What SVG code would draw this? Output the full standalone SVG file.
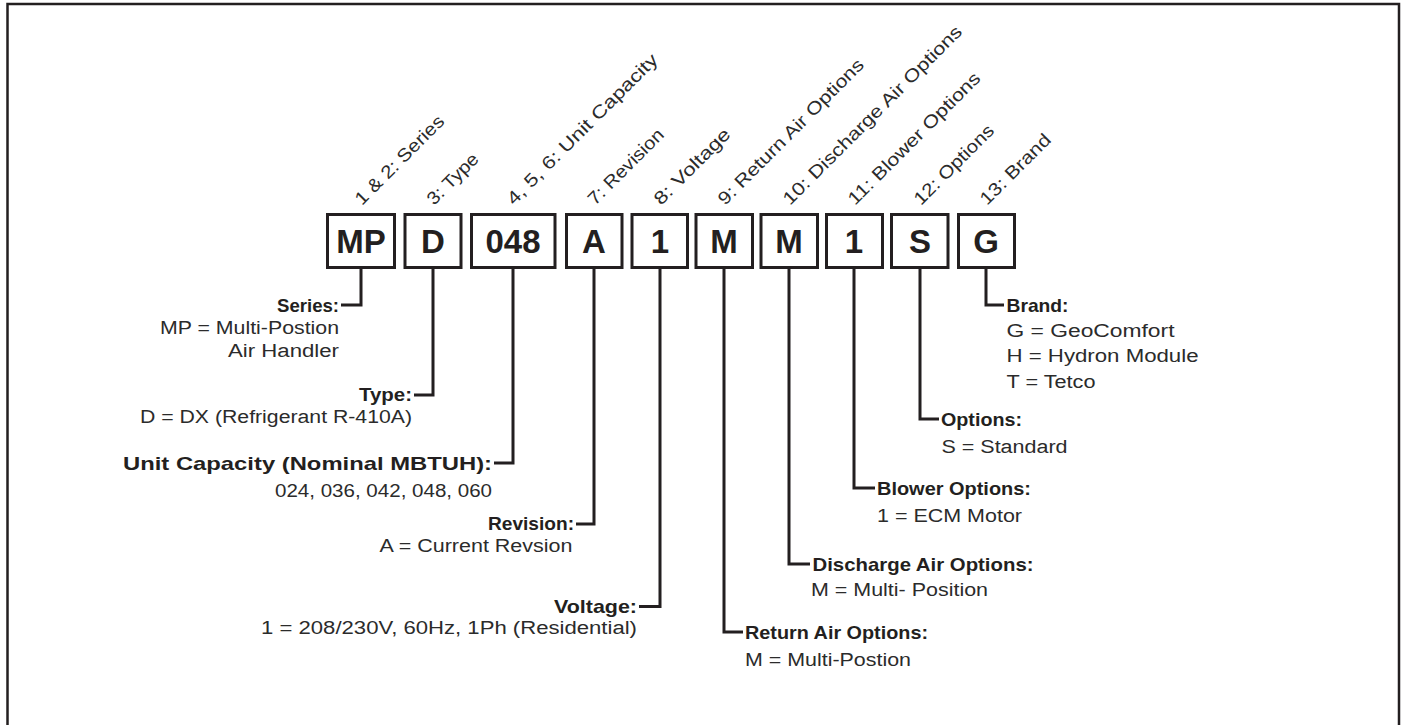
<svg xmlns="http://www.w3.org/2000/svg" width="1403" height="725" viewBox="0 0 1403 725">
<style>
.frame{fill:none;stroke:#231f20;stroke-width:2.5}
.ln{fill:none;stroke:#231f20;stroke-width:3;stroke-linejoin:miter}
.box{fill:#fff;stroke:#231f20;stroke-width:3}
.bt{font-family:"Liberation Sans",Arial,sans-serif;font-weight:bold;font-size:33px;fill:#231f20;text-anchor:middle}
.h{font-family:"Liberation Sans",Arial,sans-serif;font-weight:bold;font-size:19px;fill:#231f20}
.t{font-family:"Liberation Sans",Arial,sans-serif;font-size:18px;fill:#2b2b2b}
.r{font-family:"Liberation Sans",Arial,sans-serif;font-size:18px;fill:#2b2b2b}
.e{text-anchor:end}
</style>
<rect width="1403" height="725" fill="#fff"/>
<path class="frame" d="M7.5,725 V4 H1399 V725"/>

<g id="connectors">
<path class="ln" d="M361,269 V305 H341"/>
<path class="ln" d="M433,269 V395 H414"/>
<path class="ln" d="M513,269 V463 H494"/>
<path class="ln" d="M594,269 V524 H576"/>
<path class="ln" d="M660,269 V606.5 H639"/>
<path class="ln" d="M724,269 V632 H743"/>
<path class="ln" d="M789,269 V564 H810"/>
<path class="ln" d="M854,269 V488 H875"/>
<path class="ln" d="M920,269 V419 H939"/>
<path class="ln" d="M986,269 V305 H1004"/>
</g>

<g id="node-series">
<rect class="box" x="327.5" y="214.5" width="67" height="53"/>
<text class="bt" x="361" y="253">MP</text>
<text class="r" transform="translate(362,206) rotate(-45)" textLength="118" lengthAdjust="spacingAndGlyphs">1 &amp; 2: Series</text>
<text class="h e" x="339" y="311.5" textLength="62" lengthAdjust="spacingAndGlyphs">Series:</text>
<text class="t e" x="339" y="334" textLength="179" lengthAdjust="spacingAndGlyphs">MP = Multi-Postion</text>
<text class="t e" x="339" y="357" textLength="111" lengthAdjust="spacingAndGlyphs">Air Handler</text>
</g>

<g id="node-type">
<rect class="box" x="405" y="214.5" width="56" height="53"/>
<text class="bt" x="433" y="253">D</text>
<text class="r" transform="translate(434,206) rotate(-45)" textLength="65" lengthAdjust="spacingAndGlyphs">3: Type</text>
<text class="h e" x="412" y="401" textLength="53" lengthAdjust="spacingAndGlyphs">Type:</text>
<text class="t e" x="412" y="423" textLength="272" lengthAdjust="spacingAndGlyphs">D = DX (Refrigerant R-410A)</text>
</g>

<g id="node-capacity">
<rect class="box" x="471.5" y="214.5" width="83.5" height="53"/>
<text class="bt" x="513" y="253">048</text>
<text class="r" transform="translate(514,206) rotate(-45)" textLength="205" lengthAdjust="spacingAndGlyphs">4, 5, 6: Unit Capacity</text>
<text class="h e" x="492" y="469.5" textLength="369" lengthAdjust="spacingAndGlyphs">Unit Capacity (Nominal MBTUH):</text>
<text class="t e" x="492" y="497" textLength="217" lengthAdjust="spacingAndGlyphs">024, 036, 042, 048, 060</text>
</g>

<g id="node-revision">
<rect class="box" x="566.5" y="214.5" width="55.5" height="53"/>
<text class="bt" x="594" y="253">A</text>
<text class="r" transform="translate(595,206) rotate(-45)" textLength="99" lengthAdjust="spacingAndGlyphs">7: Revision</text>
<text class="h e" x="574" y="530" textLength="86" lengthAdjust="spacingAndGlyphs">Revision:</text>
<text class="t e" x="572.5" y="551.5" textLength="193" lengthAdjust="spacingAndGlyphs">A = Current Revsion</text>
</g>

<g id="node-voltage">
<rect class="box" x="632" y="214.5" width="55.5" height="53"/>
<text class="bt" x="660" y="253">1</text>
<text class="r" transform="translate(661,206) rotate(-45)" textLength="100" lengthAdjust="spacingAndGlyphs">8: Voltage</text>
<text class="h e" x="637" y="612.5" textLength="83" lengthAdjust="spacingAndGlyphs">Voltage:</text>
<text class="t e" x="637" y="634" textLength="376" lengthAdjust="spacingAndGlyphs">1 = 208/230V, 60Hz, 1Ph (Residential)</text>
</g>

<g id="node-return">
<rect class="box" x="696" y="214.5" width="56.5" height="53"/>
<text class="bt" x="724" y="253">M</text>
<text class="r" transform="translate(725,206) rotate(-45)" textLength="198" lengthAdjust="spacingAndGlyphs">9: Return Air Options</text>
<text class="h" x="745" y="638.5" textLength="183" lengthAdjust="spacingAndGlyphs">Return Air Options:</text>
<text class="t" x="745" y="666" textLength="166" lengthAdjust="spacingAndGlyphs">M = Multi-Postion</text>
</g>

<g id="node-discharge">
<rect class="box" x="761" y="214.5" width="56.5" height="53"/>
<text class="bt" x="789" y="253">M</text>
<text class="r" transform="translate(790,206) rotate(-45)" textLength="245" lengthAdjust="spacingAndGlyphs">10: Discharge Air Options</text>
<text class="h" x="812.5" y="570.5" textLength="221" lengthAdjust="spacingAndGlyphs">Discharge Air Options:</text>
<text class="t" x="811" y="596" textLength="177" lengthAdjust="spacingAndGlyphs">M = Multi- Position</text>
</g>

<g id="node-blower">
<rect class="box" x="826.5" y="214.5" width="56" height="53"/>
<text class="bt" x="854" y="253">1</text>
<text class="r" transform="translate(855,206) rotate(-45)" textLength="179" lengthAdjust="spacingAndGlyphs">11: Blower Options</text>
<text class="h" x="877" y="494.5" textLength="154" lengthAdjust="spacingAndGlyphs">Blower Options:</text>
<text class="t" x="877" y="521.5" textLength="145" lengthAdjust="spacingAndGlyphs">1 = ECM Motor</text>
</g>

<g id="node-options">
<rect class="box" x="891.5" y="214.5" width="56.5" height="53"/>
<text class="bt" x="920" y="253">S</text>
<text class="r" transform="translate(921,206) rotate(-45)" textLength="105" lengthAdjust="spacingAndGlyphs">12: Options</text>
<text class="h" x="941" y="425.5" textLength="81" lengthAdjust="spacingAndGlyphs">Options:</text>
<text class="t" x="941.5" y="453" textLength="126" lengthAdjust="spacingAndGlyphs">S = Standard</text>
</g>

<g id="node-brand">
<rect class="box" x="958.5" y="214.5" width="56" height="53"/>
<text class="bt" x="986" y="253">G</text>
<text class="r" transform="translate(987,206) rotate(-45)" textLength="92" lengthAdjust="spacingAndGlyphs">13: Brand</text>
<text class="h" x="1006.5" y="311.5" textLength="62" lengthAdjust="spacingAndGlyphs">Brand:</text>
<text class="t" x="1006.5" y="337" textLength="168" lengthAdjust="spacingAndGlyphs">G = GeoComfort</text>
<text class="t" x="1006.5" y="361.5" textLength="192" lengthAdjust="spacingAndGlyphs">H = Hydron Module</text>
<text class="t" x="1006.5" y="388" textLength="89" lengthAdjust="spacingAndGlyphs">T = Tetco</text>
</g>
</svg>
